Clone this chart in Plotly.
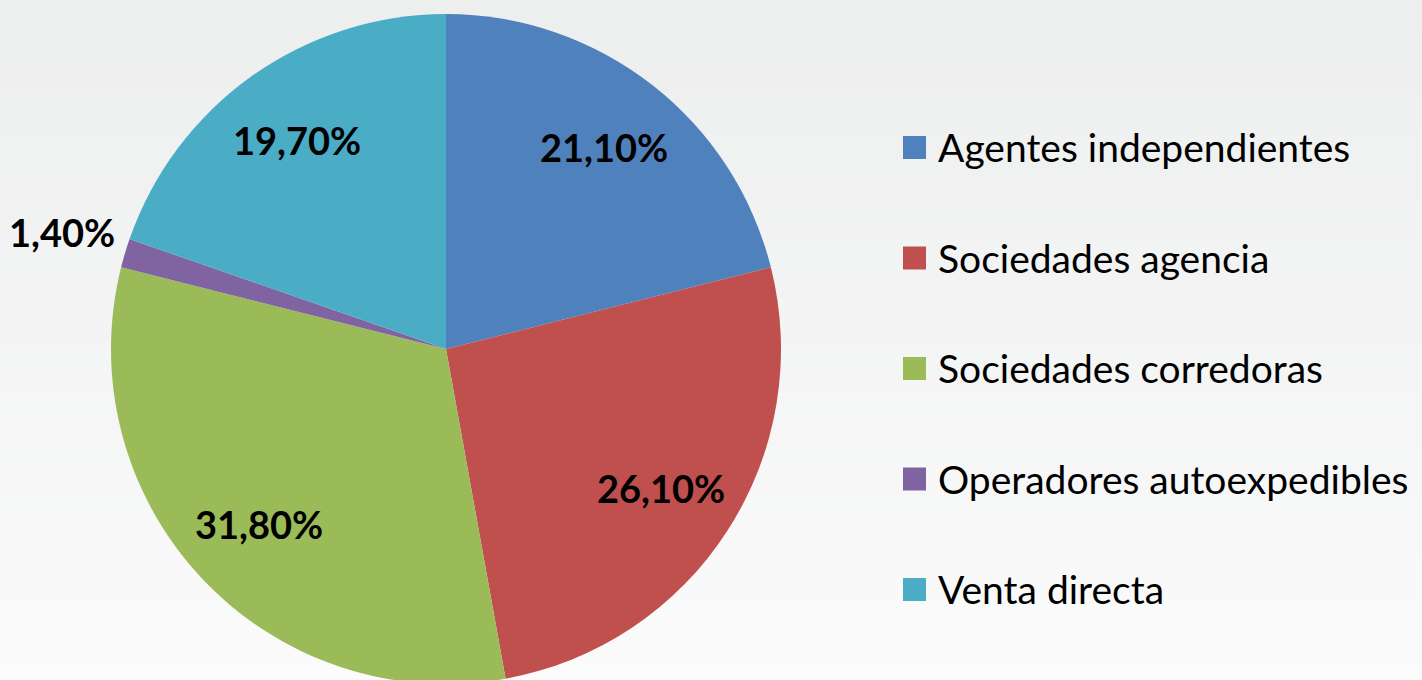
import math
import plotly.graph_objects as go

categories = ["Agentes independientes", "Sociedades agencia", "Sociedades corredoras",
              "Operadores autoexpedibles", "Venta directa"]
values = [21.1, 26.1, 31.8, 1.4, 19.7]
colors = ["#4F81BD", "#C0504D", "#9BBB59", "#8064A2", "#4BACC6"]

W, H = 1422, 690          # figure slightly taller than the 680 viewport: pie is clipped at bottom
cx, cy, R = 446, 349, 335  # pie centre / radius in page pixels
FONT = "Lato"

fig = go.Figure(go.Pie(
    labels=categories, values=values, sort=False, direction="clockwise", rotation=0,
    marker=dict(colors=colors, line=dict(width=0)), textinfo="none",
    hoverinfo="label+percent", showlegend=False,
    domain=dict(x=[(cx - R) / W, (cx + R) / W], y=[1 - (cy + R) / H, 1 - (cy - R) / H]),
))


def px(x):
    return x / W


def py(y):
    return 1 - y / H


shapes = []
# background gradient
nb = 46
c0, c1 = (237, 238, 238), (251, 251, 251)
for i in range(nb):
    t = i / (nb - 1)
    col = tuple(round(c0[k] + (c1[k] - c0[k]) * t) for k in range(3))
    shapes.append(dict(type="rect", xref="paper", yref="paper", x0=0, x1=1,
                       y0=max(0, py((i + 1) * H / nb + 1)), y1=py(i * H / nb),
                       fillcolor="rgb(%d,%d,%d)" % col, line=dict(width=0), layer="below"))

annotations = []
total = sum(values)
cum = 0
for v in values:
    mid = (cum + v / 2) / total
    cum += v
    a = 2 * math.pi * mid
    txt = ("%.2f%%" % v).replace(".", ",")
    lf = dict(family=FONT, size=38, color="black", weight="bold")
    if v / total > 0.05:
        f = 0.765
        x = cx + f * R * math.sin(a)
        y = cy - f * R * math.cos(a)
        annotations.append(dict(x=px(x), y=py(y), xref="paper", yref="paper", text=txt,
                                showarrow=False, xanchor="center", yanchor="middle", font=lf))
    else:
        x = cx + R * math.sin(a) - 8
        y = cy - R * math.cos(a) - 21
        annotations.append(dict(x=px(x), y=py(y), xref="paper", yref="paper", text=txt,
                                showarrow=False, xanchor="right", yanchor="middle", font=lf))

# legend
ly0, lgap = 147, 110.5
for i, (cat, col) in enumerate(zip(categories, colors)):
    yc = ly0 + i * lgap
    shapes.append(dict(type="rect", xref="paper", yref="paper",
                       x0=px(903), x1=px(926), y0=py(yc + 12), y1=py(yc - 11),
                       fillcolor=col, line=dict(width=0)))
    annotations.append(dict(x=px(936), y=py(yc), xref="paper", yref="paper", text=cat,
                            showarrow=False, xanchor="left", yanchor="middle",
                            font=dict(family=FONT, size=39, color="black")))

fig.update_layout(
    width=W, height=H, margin=dict(l=0, r=0, t=0, b=0),
    paper_bgcolor="#F2F2F2", plot_bgcolor="#F2F2F2",
    shapes=shapes, annotations=annotations,
)

fig.write_html("out.html",
               config={"displayModeBar": False},
               post_script="document.body.style.margin='0';"
                           "document.body.style.overflow='hidden';"
                           "document.documentElement.style.overflow='hidden';")
